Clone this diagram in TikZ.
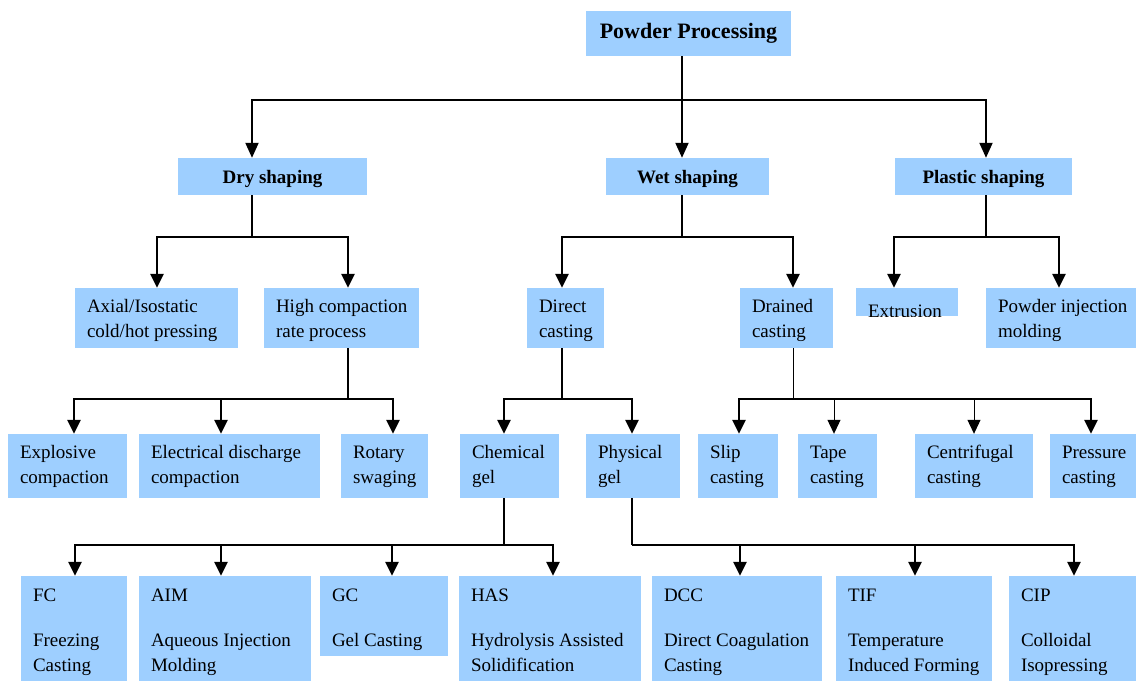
\documentclass[tikz,border=0pt]{standalone}
\usepackage{fontspec}
\setmainfont{Liberation Serif}
\usetikzlibrary{arrows.meta}
\definecolor{boxblue}{RGB}{158,207,255}
\newcommand\bx[5]{\node[box, minimum width={#4-#2}, minimum height={#5-#3}] (#1) at ({(#2+#4)/2},{(#3+#5)/2}) {};}
\newcommand\hbx[8]{\node[box, #8, font=\fontsize{#7}{24}\selectfont\bfseries, minimum width={#4-#2}, minimum height={#5-#3}] (#1) at ({(#2+#4)/2},{(#3+#5)/2}) {#6};}
% #2 = distance from box top to the baseline of the LAST line
\newcommand\tx[3]{\node[txt] (#1t) at ([xshift=12pt,yshift=-#2pt]#1.north west) {#3};}
\begin{document}
\begin{tikzpicture}[x=1pt,y=-1pt,
  box/.style={rectangle, fill=boxblue, draw=none, inner sep=0pt},
  hdr/.style={text height=13pt, text depth=0pt},
  txt/.style={inner sep=0pt, align=left, anchor=base west, font=\fontsize{19}{24.5}\selectfont},
  conn/.style={line width=2.5pt},
  connthin/.style={line width=1pt},
  arr/.style={line width=2.5pt, -{Triangle[length=14pt,width=13pt]}},
  arrtop/.style={line width=2pt, -{Triangle[length=15pt,width=13pt]}},
  arrthin/.style={line width=1pt, -{Triangle[length=14pt,width=13pt]}}]
\useasboundingbox (0,0) rectangle (1136,681);

% ---- boxes ----
\hbx{pp}{586}{11}{791}{56}{Powder Processing}{22}{}
\hbx{dry}{178}{158}{367}{195}{Dry shaping}{19}{hdr}
\hbx{wet}{606}{158}{769}{195}{Wet shaping}{19}{hdr}
\hbx{plastic}{895}{158}{1072}{195}{Plastic shaping}{19}{hdr}

\bx{axial}{75}{288}{238}{348}
\bx{high}{264}{288}{419}{348}
\bx{direct}{527}{288}{604}{348}
\bx{drained}{740}{288}{833}{348}
\bx{extr}{856}{288}{958}{316}
\bx{pim}{986}{288}{1136}{348}

\bx{expl}{8}{434}{127}{498}
\bx{elec}{139}{434}{320}{498}
\bx{rot}{341}{434}{428}{498}
\bx{chem}{460}{434}{559}{498}
\bx{phys}{586}{434}{680}{498}
\bx{slip}{698}{434}{778}{498}
\bx{tape}{798}{434}{877}{498}
\bx{cent}{915}{434}{1033}{498}
\bx{pres}{1050}{434}{1136}{498}

\bx{fc}{21}{576}{127}{681}
\bx{aim}{139}{576}{311}{681}
\bx{gc}{320}{576}{448}{656}
\bx{has}{459}{576}{641}{681}
\bx{dcc}{652}{576}{822}{681}
\bx{tif}{836}{576}{992}{681}
\bx{cip}{1009}{576}{1136}{681}

% ---- texts ----
\tx{axial}{49.5}{Axial/Isostatic\\cold/hot pressing}
\tx{high}{49.5}{High compaction\\rate process}
\tx{direct}{49.5}{Direct\\casting}
\tx{drained}{49.5}{Drained\\casting}
\begin{scope}
  \clip (extr.north west) rectangle (extr.south east);
  \tx{extr}{29.5}{Extrusion}
\end{scope}
\tx{pim}{49.5}{Powder injection\\molding}

\tx{expl}{49.5}{Explosive\\compaction}
\tx{elec}{49.5}{Electrical discharge\\compaction}
\tx{rot}{49.5}{Rotary\\swaging}
\tx{chem}{49.5}{Chemical\\gel}
\tx{phys}{49.5}{Physical\\gel}
\tx{slip}{49.5}{Slip\\casting}
\tx{tape}{49.5}{Tape\\casting}
\tx{cent}{49.5}{Centrifugal\\casting}
\tx{pres}{49.5}{Pressure\\casting}

\tx{fc}{95.5}{FC\\[20.5pt]Freezing\\Casting}
\tx{aim}{95.5}{AIM\\[20.5pt]Aqueous Injection\\Molding}
\tx{gc}{71}{GC\\[20.5pt]Gel Casting}
\tx{has}{95.5}{HAS\\[20.5pt]Hydrolysis Assisted\\Solidification}
\tx{dcc}{95.5}{DCC\\[20.5pt]Direct Coagulation\\Casting}
\tx{tif}{95.5}{TIF\\[20.5pt]Temperature\\Induced Forming}
\tx{cip}{95.5}{CIP\\[20.5pt]Colloidal\\Isopressing}

% ---- connectors: level 1 ----
\draw[line width=2pt] (pp.south -| 682,0) -- (682,100) coordinate (j0);
\draw[arrtop] (j0) -- (wet.north -| j0);
\draw[arrtop] (j0) -| (dry.north -| 252,0);
\draw[arrtop] (j0) -| (plastic.north -| 986,0);

% ---- level 2 ----
\draw[conn] (dry.south -| 252,0) -- (252,237) coordinate (j1);
\draw[arr] (j1) -| (axial.north -| 157,0);
\draw[arr] (j1) -| (high.north -| 348,0);
\draw[conn] (wet.south -| 682,0) -- (682,237) coordinate (j2);
\draw[arr] (j2) -| (direct.north -| 562,0);
\draw[arr] (j2) -| (drained.north -| 793,0);
\draw[conn] (plastic.south -| 986,0) -- (986,237) coordinate (j3);
\draw[arr] (j3) -| (extr.north -| 894,0);
\draw[arr] (j3) -| (pim.north -| 1059,0);

% ---- level 3 ----
\draw[conn] (high.south -| 348,0) -- (348,399) coordinate (j4);
\draw[arr] (j4) -| (expl.north -| 74,0);
\draw[arr] (j4) -| (elec.north -| 221,0);
\draw[arr] (j4) -| (rot.north -| 393,0);
\draw[conn] (direct.south -| 562,0) -- (562,399) coordinate (j5);
\draw[arr] (j5) -| (chem.north -| 504,0);
\draw[arr] (j5) -| (phys.north -| 632,0);
\draw[connthin] (drained.south -| 793,0) -- (793,399) coordinate (j6);
\draw[arr] (j6) -| (slip.north -| 739,0);
\draw[arr] (j6) -| (pres.north -| 1091,0);
\draw[arrthin] (j6 -| 834,0) -- (tape.north -| 834,0);
\draw[arrthin] (j6 -| 974,0) -- (cent.north -| 974,0);

% ---- level 4 ----
\draw[conn] (chem.south -| 504,0) -- (504,545) coordinate (j7);
\draw[arr] (j7) -| (fc.north -| 75,0);
\draw[arr] (j7) -| (aim.north -| 221,0);
\draw[arr] (j7) -| (gc.north -| 392,0);
\draw[arr] (j7) -| (has.north -| 553,0);
\draw[conn] (phys.south -| 632,0) -- (632,545) coordinate (j8);
\draw[arr] (j8) -| (dcc.north -| 740,0);
\draw[arr] (j8) -| (tif.north -| 915,0);
\draw[arr] (j8) -| (cip.north -| 1074,0);
\end{tikzpicture}
\end{document}
